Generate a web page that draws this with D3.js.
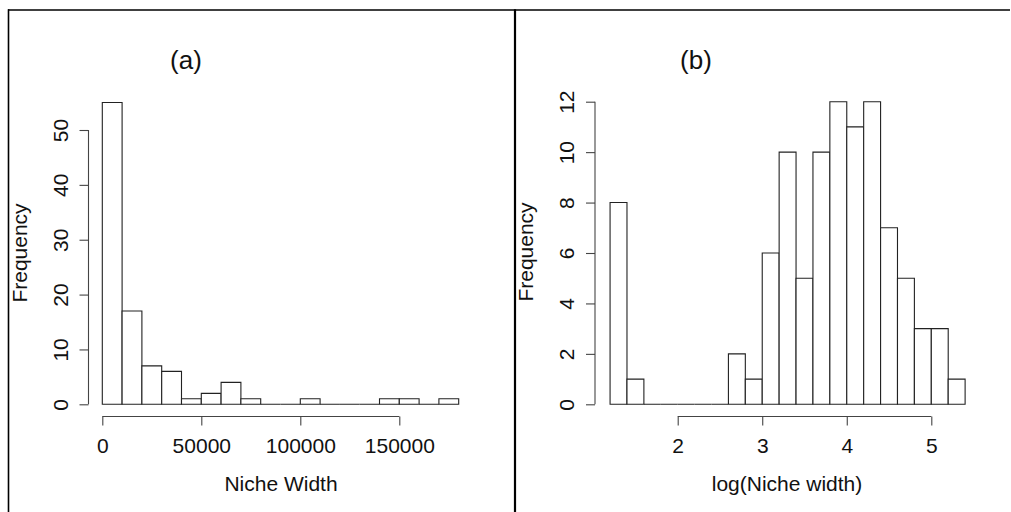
<!DOCTYPE html>
<html>
<head>
<meta charset="utf-8">
<script src="https://cdn.jsdelivr.net/npm/d3@7"></script>
<style>
  html, body { margin: 0; padding: 0; background: #fff; }
  svg { display: block; }
  text { font-family: "Liberation Sans", Arial, sans-serif; fill: #111; }
</style>
</head>
<body>
<svg id="chart" width="1011" height="512"></svg>
<script>
// ---- Data ----
// Panel (a): histogram of Niche Width, bins of 10000 starting at 0
const nicheBinStarts = [0, 10000, 20000, 30000, 40000, 50000, 60000, 70000, 80000, 90000,
                        100000, 110000, 120000, 130000, 140000, 150000, 160000, 170000];
const nicheCounts    = [55, 17, 7, 6, 1, 2, 4, 1, 0, 0, 1, 0, 0, 0, 1, 1, 0, 1];
const nicheBinWidth  = 10000;
const nicheXTicks    = [0, 50000, 100000, 150000];
const nicheYTicks    = [0, 10, 20, 30, 40, 50];

// Panel (b): histogram of log(Niche width), bins of 0.2 starting at 1.2
const logBinStarts = [1.2, 1.4, 1.6, 1.8, 2.0, 2.2, 2.4, 2.6, 2.8, 3.0, 3.2, 3.4,
                      3.6, 3.8, 4.0, 4.2, 4.4, 4.6, 4.8, 5.0, 5.2];
const logCounts    = [8, 1, 0, 0, 0, 0, 0, 2, 1, 6, 10, 5, 10, 12, 11, 12, 7, 5, 3, 3, 1];
const logBinWidth  = 0.2;
const logXTicks    = [2, 3, 4, 5];
const logYTicks    = [0, 2, 4, 6, 8, 10, 12];

const titles  = ["(a)", "(b)"];
const xLabels = ["Niche Width", "log(Niche width)"];
const yLabel  = "Frequency";

// ---- Drawing ----
const svg = d3.select("#chart");

// panel borders
svg.append("line").attr("x1", 8).attr("x2", 1010).attr("y1", 10).attr("y2", 10)
  .attr("stroke", "#000").attr("stroke-width", 1.6);
svg.append("line").attr("x1", 8.5).attr("x2", 8.5).attr("y1", 9.2).attr("y2", 512)
  .attr("stroke", "#000").attr("stroke-width", 1.6);
svg.append("line").attr("x1", 515).attr("x2", 515).attr("y1", 9.2).attr("y2", 512)
  .attr("stroke", "#000").attr("stroke-width", 2.2);

function panel(cfg) {
  const g = svg.append("g");
  const x = d3.scaleLinear().domain(cfg.xDomain).range(cfg.xRange);
  const y = d3.scaleLinear().domain(cfg.yDomain).range(cfg.yRange);

  // bars (paths so that empty bins still show their baseline)
  g.append("g").selectAll("path")
    .data(cfg.starts.map((s, i) => ({ s, c: cfg.counts[i] })))
    .join("path")
    .attr("d", d => {
      const x0 = x(d.s), x1 = x(d.s + cfg.bw), y0 = y(0), y1 = y(d.c);
      return `M${x0},${y0}V${y1}H${x1}V${y0}Z`;
    })
    .attr("fill", "#fff")
    .attr("stroke", "#222")
    .attr("stroke-width", 1.1);

  // y axis
  const yAxis = g.append("g")
    .attr("transform", `translate(${cfg.yAxisX},0)`)
    .call(d3.axisLeft(y).tickValues(cfg.yTicks).tickSize(9).tickSizeOuter(0).tickFormat(d3.format("d")));
  yAxis.select(".domain")
    .attr("d", `M0,${y(cfg.yTicks[0])}V${y(cfg.yTicks[cfg.yTicks.length - 1])}`);
  yAxis.selectAll("path, line").attr("stroke", "#444").attr("stroke-width", 1.1);
  yAxis.selectAll("text")
    .attr("transform", "rotate(-90)")
    .attr("x", 0).attr("y", -21).attr("dy", 0)
    .attr("text-anchor", "middle")
    .style("font-size", "21px")
    .style("font-family", "'Liberation Sans', Arial, sans-serif")
    .attr("fill", "#111");

  // x axis
  const xAxis = g.append("g")
    .attr("transform", `translate(0,${cfg.xAxisY})`)
    .call(d3.axisBottom(x).tickValues(cfg.xTicks).tickSize(9).tickSizeOuter(0).tickFormat(d3.format("d")));
  xAxis.select(".domain")
    .attr("d", `M${x(cfg.xTicks[0])},0H${x(cfg.xTicks[cfg.xTicks.length - 1])}`);
  xAxis.selectAll("path, line").attr("stroke", "#444").attr("stroke-width", 1.1);
  xAxis.selectAll("text")
    .attr("y", 36).attr("dy", 0)
    .attr("text-anchor", "middle")
    .style("font-size", "21px")
    .style("font-family", "'Liberation Sans', Arial, sans-serif")
    .attr("fill", "#111");

  // title
  g.append("text").attr("x", cfg.titleX).attr("y", 69)
    .attr("text-anchor", "middle").style("font-size", "26px").text(cfg.title);
  // x label
  g.append("text").attr("x", cfg.xLabelX).attr("y", 491)
    .attr("text-anchor", "middle").style("font-size", "21px").text(cfg.xLabel);
  // y label
  g.append("text")
    .attr("transform", `translate(${cfg.yLabelX},${cfg.yLabelY}) rotate(-90)`)
    .attr("text-anchor", "middle").style("font-size", "21px").text(yLabel);
}

panel({
  starts: nicheBinStarts, counts: nicheCounts, bw: nicheBinWidth,
  xDomain: [0, 150000], xRange: [102.3, 399.3],
  yDomain: [0, 50], yRange: [404.3, 130],
  xTicks: nicheXTicks, yTicks: nicheYTicks,
  yAxisX: 88.5, xAxisY: 416.5,
  title: titles[0], titleX: 186, xLabel: xLabels[0], xLabelX: 281,
  yLabelX: 27, yLabelY: 253
});

panel({
  starts: logBinStarts, counts: logCounts, bw: logBinWidth,
  xDomain: [2, 5], xRange: [677.7, 931.3],
  yDomain: [0, 12], yRange: [404.3, 101.7],
  xTicks: logXTicks, yTicks: logYTicks,
  yAxisX: 595, xAxisY: 416.5,
  title: titles[1], titleX: 696, xLabel: xLabels[1], xLabelX: 787,
  yLabelX: 533, yLabelY: 252
});
</script>
</body>
</html>
